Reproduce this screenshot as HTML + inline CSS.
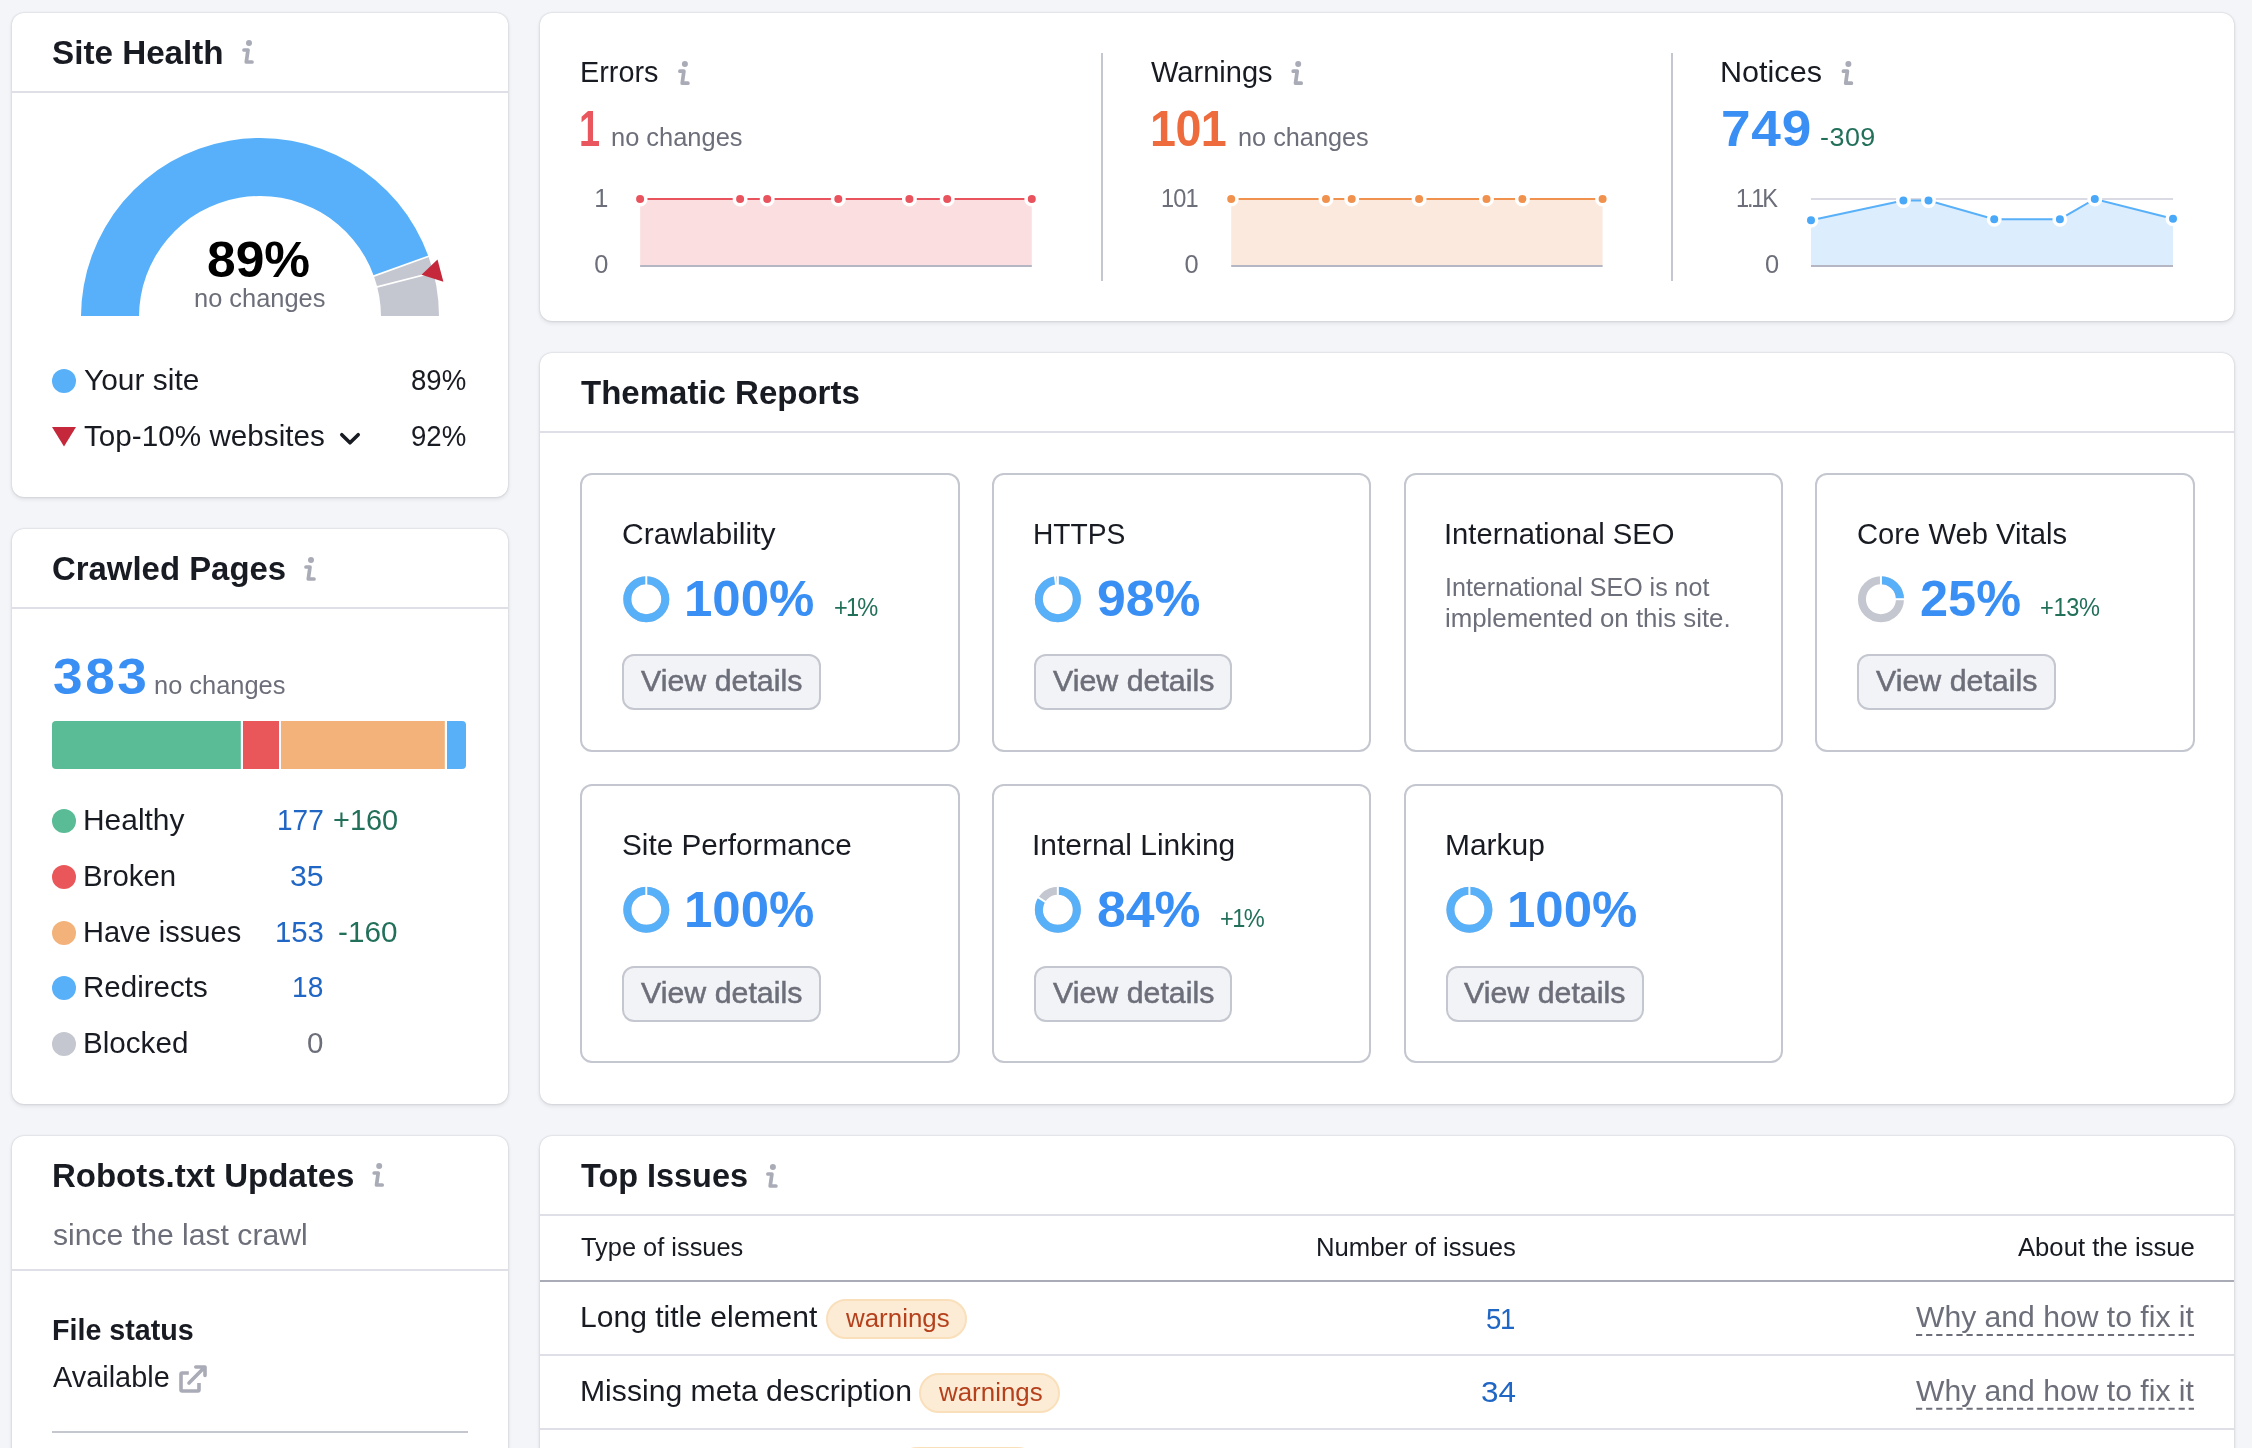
<!DOCTYPE html>
<html lang="en"><head><meta charset="utf-8"><title>Site Audit Overview</title>
<style>
html,body{margin:0;padding:0}
body{width:2252px;height:1448px;overflow:hidden;background:#f4f5f9;position:relative;font-family:"Liberation Sans",sans-serif;color:#191b23}
.card{position:absolute;background:#fff;border-radius:12px;box-shadow:0 0 2px rgba(25,27,35,.22),0 2px 4px rgba(25,27,35,.10)}
.hr{position:absolute;height:2px;background:#dedfe7}
.vr{position:absolute;width:2px;background:#c4c7cf}
.t{position:absolute;white-space:pre;line-height:1;transform-origin:0 0}
.sub{position:absolute;box-sizing:border-box;border:2px solid #c4c7cf;border-radius:12px;background:#fff}
.btn{position:absolute;box-sizing:border-box;border:2px solid #c4c7cf;border-radius:12px;background:#f2f3f6}
.badge{position:absolute;box-sizing:border-box;border:2px solid #fadfbb;border-radius:20px;background:#fcecd6;height:40px}
.dot{position:absolute;width:24px;height:24px;border-radius:50%}
svg{position:absolute;left:0;top:0;overflow:visible}
</style></head><body>

<section class="card" style="left:12px;top:13px;width:496px;height:484px"></section>
<section class="card" style="left:12px;top:529px;width:496px;height:575px"></section>
<section class="card" style="left:12px;top:1136px;width:496px;height:340px"></section>
<section class="card" style="left:540px;top:13px;width:1694px;height:308px"></section>
<section class="card" style="left:540px;top:353px;width:1694px;height:751px"></section>
<section class="card" style="left:540px;top:1136px;width:1694px;height:340px"></section>
<div class="hr" style="left:12px;top:91px;width:496px"></div>
<div class="hr" style="left:12px;top:607px;width:496px"></div>
<div class="hr" style="left:12px;top:1269px;width:496px"></div>
<div class="hr" style="left:52px;top:1431px;width:416px;background:#c4c7cf"></div>
<div class="hr" style="left:540px;top:431px;width:1694px"></div>
<div class="hr" style="left:540px;top:1214px;width:1694px"></div>
<div class="hr" style="left:540px;top:1280px;width:1694px;background:#a9abb6"></div>
<div class="hr" style="left:540px;top:1354px;width:1694px"></div>
<div class="hr" style="left:540px;top:1428px;width:1694px"></div>
<div class="vr" style="left:1101px;top:53px;height:228px"></div>
<div class="vr" style="left:1671px;top:53px;height:228px"></div>
<div class="sub" style="left:580.4px;top:473px;width:379.5px;height:279.0px"></div>
<div class="sub" style="left:991.95px;top:473px;width:379.5px;height:279.0px"></div>
<div class="sub" style="left:1403.5px;top:473px;width:379.5px;height:279.0px"></div>
<div class="sub" style="left:1815.05px;top:473px;width:379.5px;height:279.0px"></div>
<div class="sub" style="left:580.4px;top:784px;width:379.5px;height:279.4px"></div>
<div class="sub" style="left:991.95px;top:784px;width:379.5px;height:279.4px"></div>
<div class="sub" style="left:1403.5px;top:784px;width:379.5px;height:279.4px"></div>
<div class="btn" style="left:622.4px;top:654.2px;width:198.5px;height:55.4px"></div>
<div class="btn" style="left:1033.95px;top:654.2px;width:198.5px;height:55.4px"></div>
<div class="btn" style="left:1857.05px;top:654.2px;width:198.5px;height:55.4px"></div>
<div class="btn" style="left:622.4px;top:966.4px;width:198.5px;height:55.4px"></div>
<div class="btn" style="left:1033.95px;top:966.4px;width:198.5px;height:55.4px"></div>
<div class="btn" style="left:1445.5px;top:966.4px;width:198.5px;height:55.4px"></div>
<div class="badge" style="left:826.2px;top:1299px;width:140.8px"></div>
<div class="badge" style="left:919.2px;top:1373px;width:140.8px"></div>
<div class="badge" style="left:897.2px;top:1447px;width:140.6px"></div>
<div class="dot" style="left:52px;top:368.8px;background:#58b0f9"></div>
<div class="dot" style="left:52px;top:809px;background:#59bc96"></div>
<div class="dot" style="left:52px;top:865px;background:#ea575a"></div>
<div class="dot" style="left:52px;top:920.5px;background:#f3b27a"></div>
<div class="dot" style="left:52px;top:976px;background:#58b0f9"></div>
<div class="dot" style="left:52px;top:1032px;background:#c4c7cf"></div>
<svg width="2252" height="1448" viewBox="0 0 2252 1448">
<clipPath id="gclip"><rect x="60" y="120" width="400" height="196"/></clipPath><g clip-path="url(#gclip)">
<path d="M81.00,317.00 A179,179 0 0 1 428.42,256.37 L373.85,276.01 A121,121 0 0 0 139.00,317.00 Z" fill="#57b0f9"/>
<path d="M428.42,256.37 A179,179 0 0 1 439.00,317.00 L381.00,317.00 A121,121 0 0 0 373.85,276.01 Z" fill="#c4c7cf"/>
<line x1="429.36" y1="256.03" x2="372.91" y2="276.35" stroke="#fff" stroke-width="1.7"/>
<line x1="434.34" y1="272.24" x2="376.23" y2="287.16" stroke="#fff" stroke-width="1.7"/>
</g>
<polygon points="421.5,274.8 437.5,259.4 443.4,281.8" fill="#c4283a"/>
<polygon points="52,427 76,427 64,446.5" fill="#c4283a"/>
<path d="M341.8,434.7 L350,442.8 L358.2,434.7" fill="none" stroke="#191b23" stroke-width="3.6" stroke-linecap="round" stroke-linejoin="round"/>
<path d="M56,721 H240.8 V769 H56 a4,4 0 0 1 -4,-4 V725 a4,4 0 0 1 4,-4 Z" fill="#59bc96"/>
<rect x="243" y="721" width="36" height="48" fill="#ea575a"/>
<rect x="281" y="721" width="163.8" height="48" fill="#f3b27a"/>
<path d="M447,721 H462 a4,4 0 0 1 4,4 V765 a4,4 0 0 1 -4,4 H447 Z" fill="#58b0f9"/>
<g transform="translate(0.0,0.0)" fill="none" stroke="#a9abb6" stroke-width="3.7" stroke-linecap="round" stroke-linejoin="round"><circle cx="249" cy="42.9" r="3" fill="#a9abb6" stroke="none"/><path d="M244,50 L248,50 L246.3,62 L252,62"/></g>
<g transform="translate(62.0,517.0)" fill="none" stroke="#a9abb6" stroke-width="3.7" stroke-linecap="round" stroke-linejoin="round"><circle cx="249" cy="42.9" r="3" fill="#a9abb6" stroke="none"/><path d="M244,50 L248,50 L246.3,62 L252,62"/></g>
<g transform="translate(130.2,1123.0)" fill="none" stroke="#a9abb6" stroke-width="3.7" stroke-linecap="round" stroke-linejoin="round"><circle cx="249" cy="42.9" r="3" fill="#a9abb6" stroke="none"/><path d="M244,50 L248,50 L246.3,62 L252,62"/></g>
<g transform="translate(523.9,1124.0)" fill="none" stroke="#a9abb6" stroke-width="3.7" stroke-linecap="round" stroke-linejoin="round"><circle cx="249" cy="42.9" r="3" fill="#a9abb6" stroke="none"/><path d="M244,50 L248,50 L246.3,62 L252,62"/></g>
<g transform="translate(435.9,21.2)" fill="none" stroke="#a9abb6" stroke-width="3.7" stroke-linecap="round" stroke-linejoin="round"><circle cx="249" cy="42.9" r="3" fill="#a9abb6" stroke="none"/><path d="M244,50 L248,50 L246.3,62 L252,62"/></g>
<g transform="translate(1049.2,21.2)" fill="none" stroke="#a9abb6" stroke-width="3.7" stroke-linecap="round" stroke-linejoin="round"><circle cx="249" cy="42.9" r="3" fill="#a9abb6" stroke="none"/><path d="M244,50 L248,50 L246.3,62 L252,62"/></g>
<g transform="translate(1599.4,21.2)" fill="none" stroke="#a9abb6" stroke-width="3.7" stroke-linecap="round" stroke-linejoin="round"><circle cx="249" cy="42.9" r="3" fill="#a9abb6" stroke="none"/><path d="M244,50 L248,50 L246.3,62 L252,62"/></g>
<g fill="none" stroke="#a9abb6" stroke-width="3.6" stroke-linejoin="round"><path d="M188.8,1373 H182.2 a1.2,1.2 0 0 0 -1.2,1.2 V1389.8 a1.2,1.2 0 0 0 1.2,1.2 H197.8 a1.2,1.2 0 0 0 1.2,-1.2 V1383.1"/><path d="M189,1383 L204.8,1367.1 M195.8,1367 H205 V1375.5" stroke-linecap="round"/></g>
<path d="M640.1,199.0 L740.1,199.0 L767.2,199.0 L838.3,199.0 L909.4,199.0 L947.2,199.0 L1031.8,199.0 L1031.8,266 L640.1,266 Z" fill="#fbdfe0"/>
<path d="M640.1,199.0 L740.1,199.0 L767.2,199.0 L838.3,199.0 L909.4,199.0 L947.2,199.0 L1031.8,199.0" fill="none" stroke="#e9535d" stroke-width="2"/>
<line x1="640.1" y1="266" x2="1031.8" y2="266" stroke="#b4b7c3" stroke-width="2"/>
<circle cx="640.1" cy="199.0" r="5.75" fill="#e9535d" stroke="#fff" stroke-width="3.5"/>
<circle cx="740.1" cy="199.0" r="5.75" fill="#e9535d" stroke="#fff" stroke-width="3.5"/>
<circle cx="767.2" cy="199.0" r="5.75" fill="#e9535d" stroke="#fff" stroke-width="3.5"/>
<circle cx="838.3" cy="199.0" r="5.75" fill="#e9535d" stroke="#fff" stroke-width="3.5"/>
<circle cx="909.4" cy="199.0" r="5.75" fill="#e9535d" stroke="#fff" stroke-width="3.5"/>
<circle cx="947.2" cy="199.0" r="5.75" fill="#e9535d" stroke="#fff" stroke-width="3.5"/>
<circle cx="1031.8" cy="199.0" r="5.75" fill="#e9535d" stroke="#fff" stroke-width="3.5"/>
<path d="M1231.2,199.0 L1326.0,199.0 L1351.7,199.0 L1419.1,199.0 L1486.5,199.0 L1522.4,199.0 L1602.6,199.0 L1602.6,266 L1231.2,266 Z" fill="#fbe9dd"/>
<path d="M1231.2,199.0 L1326.0,199.0 L1351.7,199.0 L1419.1,199.0 L1486.5,199.0 L1522.4,199.0 L1602.6,199.0" fill="none" stroke="#f0924e" stroke-width="2"/>
<line x1="1231.2" y1="266" x2="1602.6" y2="266" stroke="#b4b7c3" stroke-width="2"/>
<circle cx="1231.2" cy="199.0" r="5.75" fill="#f0924e" stroke="#fff" stroke-width="3.5"/>
<circle cx="1326.0" cy="199.0" r="5.75" fill="#f0924e" stroke="#fff" stroke-width="3.5"/>
<circle cx="1351.7" cy="199.0" r="5.75" fill="#f0924e" stroke="#fff" stroke-width="3.5"/>
<circle cx="1419.1" cy="199.0" r="5.75" fill="#f0924e" stroke="#fff" stroke-width="3.5"/>
<circle cx="1486.5" cy="199.0" r="5.75" fill="#f0924e" stroke="#fff" stroke-width="3.5"/>
<circle cx="1522.4" cy="199.0" r="5.75" fill="#f0924e" stroke="#fff" stroke-width="3.5"/>
<circle cx="1602.6" cy="199.0" r="5.75" fill="#f0924e" stroke="#fff" stroke-width="3.5"/>
<line x1="1811" y1="199" x2="2173" y2="199" stroke="#d9dae3" stroke-width="2"/>
<path d="M1811.0,220.3 L1903.4,200.6 L1928.5,200.6 L1994.2,219.2 L2059.9,219.2 L2094.8,199.0 L2173.0,218.8 L2173,266 L1811,266 Z" fill="#dcedfd"/>
<path d="M1811.0,220.3 L1903.4,200.6 L1928.5,200.6 L1994.2,219.2 L2059.9,219.2 L2094.8,199.0 L2173.0,218.8" fill="none" stroke="#58b0f9" stroke-width="2"/>
<line x1="1811" y1="266" x2="2173" y2="266" stroke="#b4b7c3" stroke-width="2"/>
<circle cx="1811.0" cy="220.3" r="5.75" fill="#4aa8f8" stroke="#fff" stroke-width="3.5"/>
<circle cx="1903.4" cy="200.6" r="5.75" fill="#4aa8f8" stroke="#fff" stroke-width="3.5"/>
<circle cx="1928.5" cy="200.6" r="5.75" fill="#4aa8f8" stroke="#fff" stroke-width="3.5"/>
<circle cx="1994.2" cy="219.2" r="5.75" fill="#4aa8f8" stroke="#fff" stroke-width="3.5"/>
<circle cx="2059.9" cy="219.2" r="5.75" fill="#4aa8f8" stroke="#fff" stroke-width="3.5"/>
<circle cx="2094.8" cy="199.0" r="5.75" fill="#4aa8f8" stroke="#fff" stroke-width="3.5"/>
<circle cx="2173.0" cy="218.8" r="5.75" fill="#4aa8f8" stroke="#fff" stroke-width="3.5"/>
<circle cx="646.3" cy="599.2" r="19" fill="none" stroke="#c4c7cf" stroke-width="8"/>
<circle cx="646.3" cy="599.2" r="19" fill="none" stroke="#58b0f9" stroke-width="8" stroke-dasharray="119.38 119.38" transform="rotate(-90 646.3 599.2)"/>
<line x1="646.3" y1="575.2" x2="646.3" y2="585.2" stroke="#fff" stroke-width="2"/>
<circle cx="1057.85" cy="599.2" r="19" fill="none" stroke="#c4c7cf" stroke-width="8"/>
<circle cx="1057.85" cy="599.2" r="19" fill="none" stroke="#58b0f9" stroke-width="8" stroke-dasharray="116.99 119.38" transform="rotate(-90 1057.85 599.2)"/>
<line x1="1057.85" y1="575.2" x2="1057.85" y2="585.2" stroke="#fff" stroke-width="2"/>
<line x1="1056.10" y1="585.31" x2="1054.84" y2="575.39" stroke="#fff" stroke-width="2"/>
<circle cx="1880.9499999999998" cy="599.2" r="19" fill="none" stroke="#c4c7cf" stroke-width="8"/>
<circle cx="1880.9499999999998" cy="599.2" r="19" fill="none" stroke="#58b0f9" stroke-width="8" stroke-dasharray="29.85 119.38" transform="rotate(-90 1880.9499999999998 599.2)"/>
<line x1="1880.9499999999998" y1="575.2" x2="1880.9499999999998" y2="585.2" stroke="#fff" stroke-width="2"/>
<line x1="1894.95" y1="599.20" x2="1904.95" y2="599.20" stroke="#fff" stroke-width="2"/>
<circle cx="646.3" cy="909.8000000000001" r="19" fill="none" stroke="#c4c7cf" stroke-width="8"/>
<circle cx="646.3" cy="909.8000000000001" r="19" fill="none" stroke="#58b0f9" stroke-width="8" stroke-dasharray="119.38 119.38" transform="rotate(-90 646.3 909.8000000000001)"/>
<line x1="646.3" y1="885.8000000000001" x2="646.3" y2="895.8000000000001" stroke="#fff" stroke-width="2"/>
<circle cx="1057.85" cy="909.8000000000001" r="19" fill="none" stroke="#c4c7cf" stroke-width="8"/>
<circle cx="1057.85" cy="909.8000000000001" r="19" fill="none" stroke="#58b0f9" stroke-width="8" stroke-dasharray="100.28 119.38" transform="rotate(-90 1057.85 909.8000000000001)"/>
<line x1="1057.85" y1="885.8000000000001" x2="1057.85" y2="895.8000000000001" stroke="#fff" stroke-width="2"/>
<line x1="1046.03" y1="902.30" x2="1037.59" y2="896.94" stroke="#fff" stroke-width="2"/>
<circle cx="1469.3999999999999" cy="909.8000000000001" r="19" fill="none" stroke="#c4c7cf" stroke-width="8"/>
<circle cx="1469.3999999999999" cy="909.8000000000001" r="19" fill="none" stroke="#58b0f9" stroke-width="8" stroke-dasharray="119.38 119.38" transform="rotate(-90 1469.3999999999999 909.8000000000001)"/>
<line x1="1469.3999999999999" y1="885.8000000000001" x2="1469.3999999999999" y2="895.8000000000001" stroke="#fff" stroke-width="2"/>
<line x1="1916" y1="1335" x2="2194" y2="1335" stroke="#6c6e79" stroke-width="2" stroke-dasharray="6.2 3.9"/>
<line x1="1916" y1="1408.7" x2="2194" y2="1408.7" stroke="#6c6e79" stroke-width="2" stroke-dasharray="6.2 3.9"/>
</svg>
<main style="position:absolute;left:0;top:0;width:2252px;height:1448px;will-change:transform">
<span class="t" style="left:52.21px;top:36.00px;font-size:33.4px;color:#191b23;font-weight:700;transform:scaleX(0.9947)">Site Health</span>
<span class="t" style="left:207.35px;top:235.00px;font-size:50.2px;color:#000;font-weight:700;transform:scaleX(1.0268)">89%</span>
<span class="t" style="left:193.77px;top:286.00px;font-size:25.1px;color:#6c6e79;transform:scaleX(1.0126)">no changes</span>
<span class="t" style="left:84.38px;top:365.00px;font-size:29.3px;color:#191b23;transform:scaleX(1.0216)">Your site</span>
<span class="t" style="left:410.97px;top:365.00px;font-size:29.7px;color:#191b23;letter-spacing:-0.022px;transform:scaleX(0.9300)">89%</span>
<span class="t" style="left:84.39px;top:421.00px;font-size:29.3px;color:#191b23;transform:scaleX(1.0131)">Top-10% websites</span>
<span class="t" style="left:410.97px;top:421.00px;font-size:29.7px;color:#191b23;letter-spacing:-0.022px;transform:scaleX(0.9300)">92%</span>
<span class="t" style="left:52.11px;top:552.00px;font-size:33.4px;color:#191b23;font-weight:700;transform:scaleX(0.9855)">Crawled Pages</span>
<span class="t" style="left:52.84px;top:652.00px;font-size:50.2px;color:#398ff4;font-weight:700;letter-spacing:2.425px;transform:scaleX(1.0600)">383</span>
<span class="t" style="left:154.47px;top:673.00px;font-size:25.1px;color:#6c6e79;transform:scaleX(1.0126)">no changes</span>
<span class="t" style="left:83.36px;top:805.00px;font-size:29.3px;color:#191b23;transform:scaleX(1.0216)">Healthy</span>
<span class="t" style="left:83.39px;top:861.00px;font-size:29.3px;color:#191b23;transform:scaleX(1.0034)">Broken</span>
<span class="t" style="left:83.42px;top:917.00px;font-size:29.3px;color:#191b23;transform:scaleX(0.9911)">Have issues</span>
<span class="t" style="left:83.39px;top:972.00px;font-size:29.3px;color:#191b23;transform:scaleX(1.0074)">Redirects</span>
<span class="t" style="left:83.38px;top:1028.00px;font-size:29.3px;color:#191b23;transform:scaleX(1.0109)">Blocked</span>
<span class="t" style="left:277.11px;top:805.00px;font-size:29.7px;color:#2066c5;transform:scaleX(0.9435)">177</span>
<span class="t" style="left:289.88px;top:861.00px;font-size:29.7px;color:#2066c5;transform:scaleX(1.0161)">35</span>
<span class="t" style="left:275.03px;top:917.00px;font-size:29.7px;color:#2066c5;transform:scaleX(0.9870)">153</span>
<span class="t" style="left:292.11px;top:972.00px;font-size:29.7px;color:#2066c5;transform:scaleX(0.9467)">18</span>
<span class="t" style="left:306.51px;top:1028.00px;font-size:29.7px;color:#6c6e79;transform:scaleX(0.9933)">0</span>
<span class="t" style="left:332.73px;top:805.00px;font-size:29.7px;color:#22705a;transform:scaleX(0.9738)">+160</span>
<span class="t" style="left:338.00px;top:917.00px;font-size:29.7px;color:#22705a">-160</span>
<span class="t" style="left:51.82px;top:1159.00px;font-size:33.4px;color:#191b23;font-weight:700;transform:scaleX(0.9878)">Robots.txt Updates</span>
<span class="t" style="left:52.77px;top:1220.00px;font-size:29.3px;color:#6c6e79;transform:scaleX(1.0290)">since the last crawl</span>
<span class="t" style="left:51.84px;top:1315.00px;font-size:29.3px;color:#191b23;font-weight:700;transform:scaleX(0.9782)">File status</span>
<span class="t" style="left:53.00px;top:1362.00px;font-size:29.3px;color:#191b23;transform:scaleX(0.9863)">Available</span>
<span class="t" style="left:579.83px;top:57.00px;font-size:29.3px;color:#191b23;transform:scaleX(0.9831)">Errors</span>
<span class="t" style="left:579.14px;top:104.00px;font-size:50.2px;color:#ea565d;font-weight:700;transform:scaleX(0.7542)">1</span>
<span class="t" style="left:610.67px;top:125.00px;font-size:25.1px;color:#6c6e79;transform:scaleX(1.0134)">no changes</span>
<span class="t" style="left:594.30px;top:186.00px;font-size:25.4px;color:#6c6e79">1</span>
<span class="t" style="left:594.30px;top:252.00px;font-size:25.4px;color:#6c6e79">0</span>
<span class="t" style="left:1151.20px;top:57.00px;font-size:29.3px;color:#191b23;transform:scaleX(0.9910)">Warnings</span>
<span class="t" style="left:1150.01px;top:104.00px;font-size:50.2px;color:#ed6b3c;font-weight:700;letter-spacing:-0.575px;transform:scaleX(0.9300)">101</span>
<span class="t" style="left:1238.49px;top:125.00px;font-size:25.1px;color:#6c6e79;transform:scaleX(1.0071)">no changes</span>
<span class="t" style="left:1161.14px;top:186.00px;font-size:25.4px;color:#6c6e79;letter-spacing:-0.898px;transform:scaleX(0.9300)">101</span>
<span class="t" style="left:1184.60px;top:252.00px;font-size:25.4px;color:#6c6e79">0</span>
<span class="t" style="left:1720.21px;top:57.00px;font-size:29.3px;color:#191b23;transform:scaleX(1.0432)">Notices</span>
<span class="t" style="left:1720.78px;top:104.00px;font-size:50.2px;color:#398ff4;font-weight:700;letter-spacing:0.708px;transform:scaleX(1.0600)">749</span>
<span class="t" style="left:1819.64px;top:125.00px;font-size:25.4px;color:#22705a;letter-spacing:0.459px;transform:scaleX(1.0600)">-309</span>
<span class="t" style="left:1736.34px;top:186.00px;font-size:25.4px;color:#6c6e79;letter-spacing:-2.401px;transform:scaleX(0.9300)">1.1K</span>
<span class="t" style="left:1765.00px;top:252.00px;font-size:25.4px;color:#6c6e79">0</span>
<span class="t" style="left:581.00px;top:376.00px;font-size:33.4px;color:#191b23;font-weight:700;transform:scaleX(0.9886)">Thematic Reports</span>
<span class="t" style="left:622.08px;top:519.00px;font-size:29.3px;color:#191b23;transform:scaleX(1.0248)">Crawlability</span>
<span class="t" style="left:684.15px;top:574.00px;font-size:50.2px;color:#398ff4;font-weight:700;transform:scaleX(1.0161)">100%</span>
<span class="t" style="left:833.77px;top:595.00px;font-size:25.4px;color:#22705a;letter-spacing:-1.989px;transform:scaleX(0.9300)">+1%</span>
<span class="t" style="left:641.30px;top:666.00px;font-size:29.3px;color:#6c6e79;transform:scaleX(1.0355);-webkit-text-stroke:0.5px #6c6e79">View details</span>
<span class="t" style="left:1033.28px;top:519.00px;font-size:29.3px;color:#191b23;transform:scaleX(0.9624)">HTTPS</span>
<span class="t" style="left:1096.69px;top:574.00px;font-size:50.2px;color:#398ff4;font-weight:700;transform:scaleX(1.0309)">98%</span>
<span class="t" style="left:1052.85px;top:666.00px;font-size:29.3px;color:#6c6e79;transform:scaleX(1.0355);-webkit-text-stroke:0.5px #6c6e79">View details</span>
<span class="t" style="left:1443.81px;top:519.00px;font-size:29.3px;color:#191b23;transform:scaleX(0.9969)">International SEO</span>
<span class="t" style="left:1444.80px;top:575.00px;font-size:25.1px;color:#6c6e79;transform:scaleX(0.9977)">International SEO is not</span>
<span class="t" style="left:1444.74px;top:606.00px;font-size:25.1px;color:#6c6e79;transform:scaleX(1.0289)">implemented on this site.</span>
<span class="t" style="left:1856.65px;top:519.00px;font-size:29.3px;color:#191b23;transform:scaleX(0.9971)">Core Web Vitals</span>
<span class="t" style="left:1919.84px;top:574.00px;font-size:50.2px;color:#398ff4;font-weight:700;transform:scaleX(1.0062)">25%</span>
<span class="t" style="left:2040.02px;top:595.00px;font-size:25.4px;color:#22705a;letter-spacing:-0.401px;transform:scaleX(0.9300)">+13%</span>
<span class="t" style="left:1875.95px;top:666.00px;font-size:29.3px;color:#6c6e79;transform:scaleX(1.0355);-webkit-text-stroke:0.5px #6c6e79">View details</span>
<span class="t" style="left:621.99px;top:830.00px;font-size:29.3px;color:#191b23;transform:scaleX(1.0147)">Site Performance</span>
<span class="t" style="left:684.15px;top:885.00px;font-size:50.2px;color:#398ff4;font-weight:700;transform:scaleX(1.0161)">100%</span>
<span class="t" style="left:641.30px;top:978.00px;font-size:29.3px;color:#6c6e79;transform:scaleX(1.0355);-webkit-text-stroke:0.5px #6c6e79">View details</span>
<span class="t" style="left:1032.18px;top:830.00px;font-size:29.3px;color:#191b23;transform:scaleX(1.0227)">Internal Linking</span>
<span class="t" style="left:1096.69px;top:885.00px;font-size:50.2px;color:#398ff4;font-weight:700;transform:scaleX(1.0309)">84%</span>
<span class="t" style="left:1219.52px;top:906.00px;font-size:25.4px;color:#22705a;letter-spacing:-1.720px;transform:scaleX(0.9300)">+1%</span>
<span class="t" style="left:1052.85px;top:978.00px;font-size:29.3px;color:#6c6e79;transform:scaleX(1.0355);-webkit-text-stroke:0.5px #6c6e79">View details</span>
<span class="t" style="left:1444.66px;top:830.00px;font-size:29.3px;color:#191b23;transform:scaleX(1.0221)">Markup</span>
<span class="t" style="left:1507.25px;top:885.00px;font-size:50.2px;color:#398ff4;font-weight:700;transform:scaleX(1.0161)">100%</span>
<span class="t" style="left:1464.40px;top:978.00px;font-size:29.3px;color:#6c6e79;transform:scaleX(1.0355);-webkit-text-stroke:0.5px #6c6e79">View details</span>
<span class="t" style="left:581.00px;top:1159.00px;font-size:33.4px;color:#191b23;font-weight:700;transform:scaleX(0.9713)">Top Issues</span>
<span class="t" style="left:581.00px;top:1235.00px;font-size:25.1px;color:#191b23;transform:scaleX(1.0119)">Type of issues</span>
<span class="t" style="left:1315.95px;top:1235.00px;font-size:25.1px;color:#191b23;transform:scaleX(1.0233)">Number of issues</span>
<span class="t" style="left:2017.70px;top:1235.00px;font-size:25.1px;color:#191b23;transform:scaleX(1.0221)">About the issue</span>
<span class="t" style="left:580.05px;top:1302.00px;font-size:29.3px;color:#191b23;transform:scaleX(1.0258)">Long title element</span>
<span class="t" style="left:845.60px;top:1306.00px;font-size:25.1px;color:#b5401c;transform:scaleX(1.0320)">warnings</span>
<span class="t" style="left:1486.37px;top:1304.00px;font-size:29.7px;color:#2066c5;letter-spacing:-1.538px;transform:scaleX(0.9300)">51</span>
<span class="t" style="left:1916.30px;top:1302.00px;font-size:29.3px;color:#6c6e79;transform:scaleX(1.0281)">Why and how to fix it</span>
<span class="t" style="left:580.04px;top:1376.00px;font-size:29.3px;color:#191b23;transform:scaleX(1.0295)">Missing meta description</span>
<span class="t" style="left:938.60px;top:1380.00px;font-size:25.1px;color:#b5401c;transform:scaleX(1.0320)">warnings</span>
<span class="t" style="left:1480.74px;top:1377.00px;font-size:29.7px;color:#2066c5;letter-spacing:0.038px;transform:scaleX(1.0600)">34</span>
<span class="t" style="left:1916.30px;top:1376.00px;font-size:29.3px;color:#6c6e79;transform:scaleX(1.0281)">Why and how to fix it</span>
</main>
</body></html>
